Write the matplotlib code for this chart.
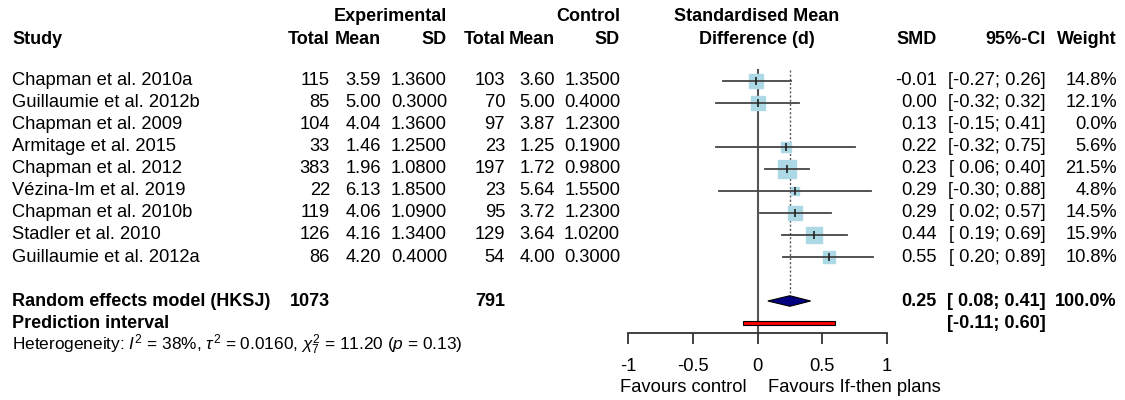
import matplotlib
matplotlib.use('Agg')
import matplotlib.pyplot as plt
from matplotlib.patches import Polygon, Rectangle
import numpy as np

# ---------------- data ----------------
studies = ["Chapman et al. 2010a", "Guillaumie et al. 2012b", "Chapman et al. 2009",
           "Armitage et al. 2015", "Chapman et al. 2012", "Vézina-Im et al. 2019",
           "Chapman et al. 2010b", "Stadler et al. 2010", "Guillaumie et al. 2012a"]
exp_total = [115, 85, 104, 33, 383, 22, 119, 126, 86]
exp_mean = [3.59, 5.00, 4.04, 1.46, 1.96, 6.13, 4.06, 4.16, 4.20]
exp_sd = [1.36, 0.30, 1.36, 1.25, 1.08, 1.85, 1.09, 1.34, 0.40]
ctl_total = [103, 70, 97, 23, 197, 23, 95, 129, 54]
ctl_mean = [3.60, 5.00, 3.87, 1.25, 1.72, 5.64, 3.72, 3.64, 4.00]
ctl_sd = [1.35, 0.40, 1.23, 0.19, 0.98, 1.55, 1.23, 1.02, 0.30]
smd = [-0.01, 0.00, 0.13, 0.22, 0.23, 0.29, 0.29, 0.44, 0.55]
ci_low = [-0.27, -0.32, -0.15, -0.32, 0.06, -0.30, 0.02, 0.19, 0.20]
ci_high = [0.26, 0.32, 0.41, 0.75, 0.40, 0.88, 0.57, 0.69, 0.89]
weight = [14.8, 12.1, 0.0, 5.6, 21.5, 4.8, 14.5, 15.9, 10.8]

re_label = "Random effects model (HKSJ)"
re_total_exp = 1073
re_total_ctl = 791
re_smd = 0.25
re_low, re_high = 0.08, 0.41
re_weight = 100.0
pi_label = "Prediction interval"
pi_low, pi_high = -0.11, 0.60
het_text = r"Heterogeneity: $I^2$ = 38%, $\tau^2$ = 0.0160, $\chi^2_7$ = 11.20 ($p$ = 0.13)"

xticks = [-1, -0.5, 0, 0.5, 1]
xtick_labels = ["-1", "-0.5", "0", "0.5", "1"]
label_left = "Favours control"
label_right = "Favours If-then plans"

# ---------------- style ----------------
plt.rcParams['font.family'] = ['Liberation Sans', 'DejaVu Sans']
plt.rcParams['mathtext.fontset'] = 'custom'
plt.rcParams['mathtext.rm'] = 'Liberation Sans'
plt.rcParams['mathtext.it'] = 'Liberation Sans:italic'
plt.rcParams['mathtext.bf'] = 'Liberation Sans:bold'

FS = 13.2
FSB = 13.0
W, H = 1125, 400
fig = plt.figure(figsize=(W / 100, H / 100), dpi=100)

row0_px, row_px = 81, 22
ytop = -row0_px / row_px
ybot = (H - row0_px) / row_px

def prow(px):
    return (px - row0_px) / row_px

# text axes (x in pixels, y in rows)
tax = fig.add_axes([0, 0, 1, 1])
tax.set_xlim(0, W)
tax.set_ylim(ybot, ytop)
tax.axis('off')

# forest axes
x_m1, x_p1 = 628, 887
fax = fig.add_axes([x_m1 / W, 0, (x_p1 - x_m1) / W, 1])
fax.set_xlim(-1, 1)
fax.set_ylim(ybot, ytop)
fax.patch.set_alpha(0)
for s in ['top', 'left', 'right']:
    fax.spines[s].set_visible(False)
axis_row = prow(333)
fax.spines['bottom'].set_position(('data', axis_row))
fax.spines['bottom'].set_color('#333333')
fax.spines['bottom'].set_linewidth(1.3)
fax.set_yticks([])
fax.set_xticks(xticks)
fax.set_xticklabels(xtick_labels, fontsize=13.2)
fax.tick_params(axis='x', direction='out', length=8, width=1.3, color='#333333', pad=10)

# headers
h1, h2 = prow(17), prow(40)
bold = dict(fontweight='bold', fontsize=FSB, va='center')
tax.text(447, h1, "Experimental", ha='right', **bold)
tax.text(620, h1, "Control", ha='right', **bold)
tax.text(757, h1, "Standardised Mean", ha='center', **bold)
tax.text(12, h2, "Study", ha='left', **bold)
for x, t in [(330, "Total"), (381, "Mean"), (447, "SD"), (505, "Total"),
             (555, "Mean"), (620, "SD"), (937, "SMD"), (1046, "95%-CI"), (1117, "Weight")]:
    tax.text(x, h2, t, ha='right', **bold)
tax.text(757, h2, "Difference (d)", ha='center', **bold)

def fmt_ci(lo, hi):
    los = f"{lo:.2f}" if lo < 0 else f" {lo:.2f}"
    return f"[{los}; {hi:.2f}]"

reg = dict(fontsize=FS, va='center')
for i, name in enumerate(studies):
    tax.text(12, i, name, ha='left', **reg)
    tax.text(330, i, f"{exp_total[i]}", ha='right', **reg)
    tax.text(381, i, f"{exp_mean[i]:.2f}", ha='right', **reg)
    tax.text(447, i, f"{exp_sd[i]:.4f}", ha='right', **reg)
    tax.text(505, i, f"{ctl_total[i]}", ha='right', **reg)
    tax.text(555, i, f"{ctl_mean[i]:.2f}", ha='right', **reg)
    tax.text(620, i, f"{ctl_sd[i]:.4f}", ha='right', **reg)
    tax.text(937, i, f"{smd[i]:.2f}", ha='right', **reg)
    tax.text(1046, i, fmt_ci(ci_low[i], ci_high[i]), ha='right', **reg)
    tax.text(1117, i, f"{weight[i]:.1f}%", ha='right', **reg)

n = len(studies)
re_row = n + 1
pi_row = n + 2
het_row = n + 3
tax.text(12, re_row, re_label, ha='left', **bold)
tax.text(330, re_row, f"{re_total_exp}", ha='right', **bold)
tax.text(505, re_row, f"{re_total_ctl}", ha='right', **bold)
tax.text(937, re_row, f"{re_smd:.2f}", ha='right', **bold)
tax.text(1046, re_row, fmt_ci(re_low, re_high), ha='right', **bold)
tax.text(1117, re_row, f"{re_weight:.1f}%", ha='right', **bold)
tax.text(12, pi_row, pi_label, ha='left', **bold)
tax.text(1046, pi_row, fmt_ci(pi_low, pi_high), ha='right', **bold)
tax.text(12, het_row, het_text, ha='left', fontsize=12.4, va='center')

tax.text(747, prow(387), label_left, ha='right', fontsize=13.2, va='center')
tax.text(768, prow(387), label_right, ha='left', fontsize=13.2, va='center')

# reference lines
fax.plot([0, 0], [-0.5, axis_row], color='#555555', lw=1.5, zorder=1, clip_on=False)
fax.plot([re_smd, re_smd], [-0.5, re_row - 0.3], color='#555555', lw=1.0,
         ls=(0, (1.5, 1.5)), zorder=1, clip_on=False)

# studies
wmax = max(weight)
for i in range(n):
    if weight[i] <= 0:
        continue
    side_px = 18 * np.sqrt(weight[i] / wmax)
    fax.plot([smd[i]], [i], marker='s', ms=side_px * 0.72, mfc='#ADD8E6',
             mec='#ADD8E6', ls='none', zorder=2, clip_on=False)
    fax.plot([ci_low[i], ci_high[i]], [i, i], color='#444444', lw=1.3, zorder=3,
             clip_on=False)
    fax.plot([smd[i]], [i], marker='|', ms=6, mew=1.2, color='#222222', ls='none',
             zorder=4, clip_on=False)

# diamond
hd = 0.24
fax.add_patch(Polygon([(re_low, re_row), (re_smd, re_row - hd), (re_high, re_row),
                       (re_smd, re_row + hd)], closed=True, facecolor='#000080',
                      edgecolor='black', lw=0.8, zorder=3, clip_on=False))
# prediction interval
hp = 0.1
fax.add_patch(Rectangle((pi_low, pi_row - hp), pi_high - pi_low, 2 * hp,
                        facecolor='red', edgecolor='black', lw=0.8, zorder=3,
                        clip_on=False))

fig.savefig('out.png', dpi=100)
